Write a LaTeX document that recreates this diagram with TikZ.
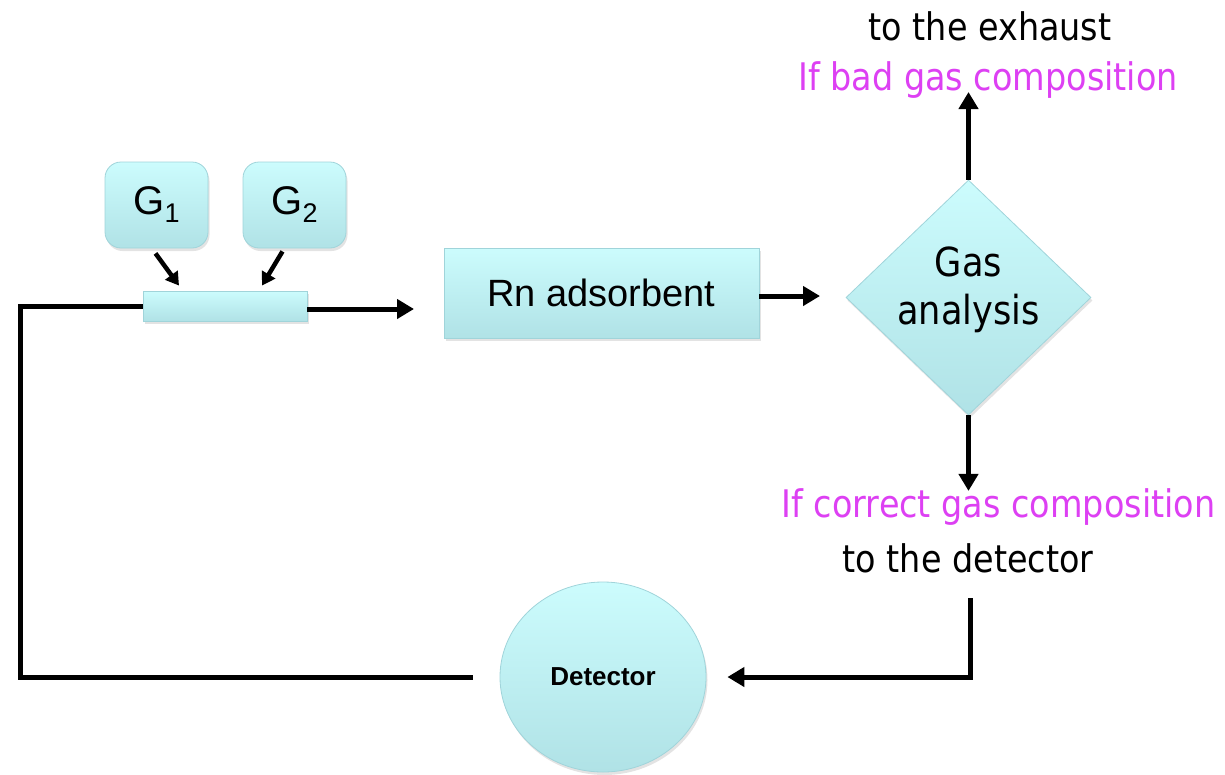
\documentclass[tikz,border=0pt]{standalone}
\usepackage{fontspec}
\usepackage{graphicx}
\setmainfont{Liberation Sans}
\newfontfamily\humsans{DejaVu Sans}
\usetikzlibrary{arrows.meta,shapes.geometric,shadows}

\definecolor{boxtop}{RGB}{204,252,253}
\definecolor{boxbot}{RGB}{176,226,230}
\definecolor{boxedge}{RGB}{160,212,218}
\definecolor{cond}{RGB}{221,64,243}

% narrow setting of the humanist sans
\newcommand{\nar}[1]{\scalebox{0.88}[1]{#1}}

\tikzset{
  unit/.style={top color=boxtop, bottom color=boxbot, draw=boxedge, line width=0.8pt,
    inner sep=0pt,
    drop shadow={shadow xshift=1.5pt, shadow yshift=-3pt, opacity=0.22}},
  flow/.style={line width=5pt, -{Triangle[length=17pt,width=19pt]}},
  feed/.style={line width=4.5pt, -{Triangle[length=13pt,width=15pt]}},
  pipe/.style={line width=5pt},
  note/.style={font=\humsans\fontsize{38}{44}\selectfont, inner sep=0pt, anchor=base},
}

\begin{document}
\begin{tikzpicture}[x=1pt, y=-1pt]
  \useasboundingbox (0,0) rectangle (1225,774);

  % gas sources and mixer
  \node[unit, rounded corners=16pt, minimum width=103pt, minimum height=86pt] (g1) at (156.5,205)
    {\fontsize{40}{48}\selectfont G\raisebox{-8pt}{\fontsize{27}{30}\selectfont 1}};
  \node[unit, rounded corners=16pt, minimum width=103pt, minimum height=86pt] (g2) at (294.5,205)
    {\fontsize{40}{48}\selectfont G\raisebox{-8pt}{\fontsize{27}{30}\selectfont 2}};
  \node[unit, minimum width=164pt, minimum height=30pt] (mix) at (225,306) {};

  % process units
  \node[unit, minimum width=315pt, minimum height=90pt] (rn) at (601.5,293)
    {\fontsize{38}{44}\selectfont Rn adsorbent};
  \node[unit, diamond, minimum width=245pt, minimum height=235pt] (ga) at (968.5,297.5) {};
  \node[font=\humsans\fontsize{40}{48}\selectfont, align=center, inner sep=0pt] (galabel)
    at ([yshift=8pt]ga.center) {\nar{Gas}\\\nar{analysis}};
  \node[unit, ellipse, minimum width=206pt, minimum height=190pt,
        font=\bfseries\fontsize{26}{30}\selectfont] (det) at (603,677) {Detector};

  % branch labels
  \node[note] (exh) at (990,40) {\nar{to the exhaust}};
  \node[note, text=cond] (bad) at (988,90) {\nar{If bad gas composition}};
  \node[note, text=cond] (good) at (998.5,517) {\nar{If correct gas composition}};
  \node[note] (todet) at (968,572) {\nar{to the detector}};

  % free ends of the pipes
  \coordinate (inlet) at (414,309);
  \coordinate (rnout) at (820,296);
  \coordinate (up) at (968.5,92);
  \coordinate (ret) at (970,598);
  \coordinate (lc) at (20,307);

  % connectors
  \draw[feed] ([xshift=-1pt,yshift=-5pt]g1.south) -- ([xshift=-46pt,yshift=5pt]mix.north);
  \draw[feed] ([xshift=-12pt,yshift=-3pt]g2.south) -- ([xshift=37pt,yshift=5pt]mix.north);
  \draw[flow] ([yshift=-3pt]mix.east) -- (inlet);
  \draw[flow] (rn.east |- rnout) -- (rnout);
  \draw[flow] (ga.north) -- (up);
  \draw[flow] (ga.south) -- ([yshift=-3pt]ga.south |- good.north);
  \draw[flow] (ret) |- ([xshift=21pt]det.east);
  \draw[pipe] (mix.west) -- (mix.west -| lc) |- ([xshift=-27pt]det.west);
\end{tikzpicture}
\end{document}
